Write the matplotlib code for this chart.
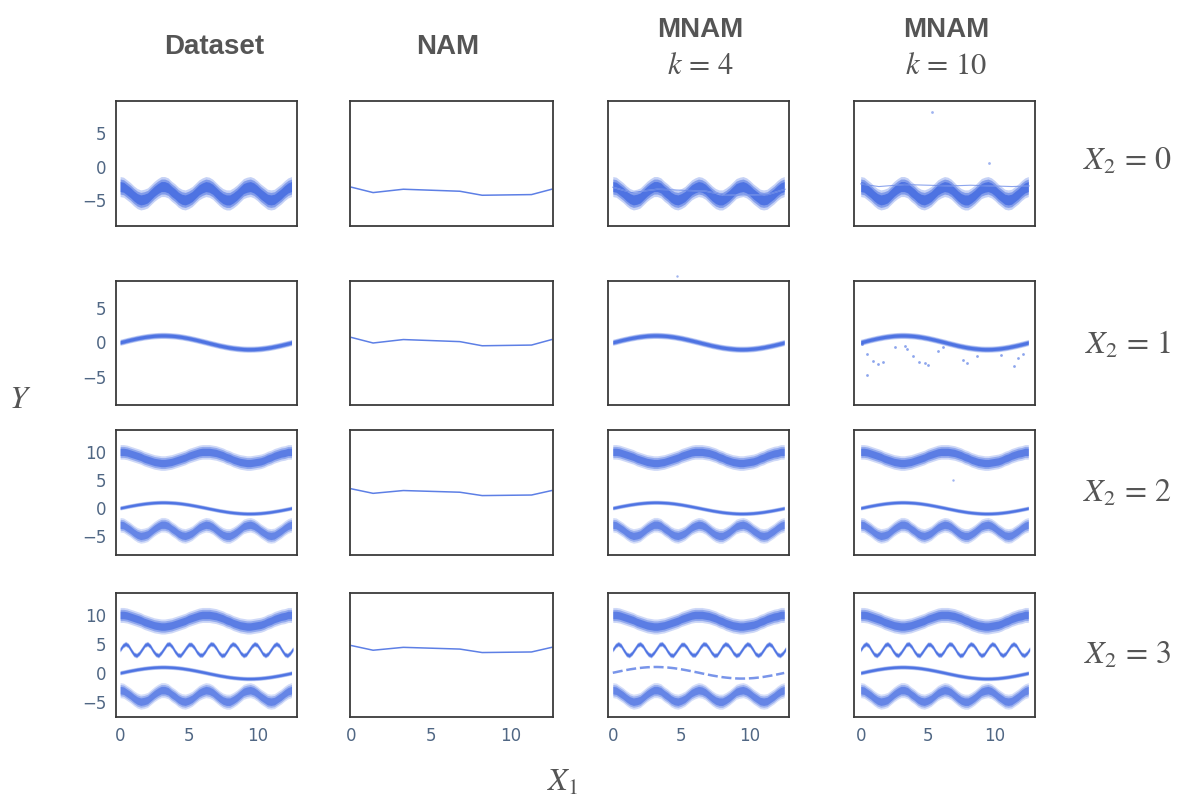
import numpy as np
import matplotlib.pyplot as plt

plt.rcParams['mathtext.fontset'] = 'stix'

# sample positions along X1
X1_GRID = [0.0, 0.25, 0.5, 0.75, 1.0, 1.25, 1.5, 1.75, 2.0, 2.25, 2.5, 2.75, 3.0,
           3.25, 3.5, 3.75, 4.0, 4.25, 4.5, 4.75, 5.0, 5.25, 5.5, 5.75, 6.0, 6.25,
           6.5, 6.75, 7.0, 7.25, 7.5, 7.75, 8.0, 8.25, 8.5, 8.75, 9.0, 9.25, 9.5,
           9.75, 10.0, 10.25, 10.5, 10.75, 11.0, 11.25, 11.5, 11.75, 12.0, 12.25, 12.5]
X1_FAST = [0.0, 0.2, 0.4, 0.6, 0.8, 1.0, 1.2, 1.4, 1.6, 1.8, 2.0, 2.2, 2.4, 2.6, 2.8,
           3.0, 3.2, 3.4, 3.6, 3.8, 4.0, 4.2, 4.4, 4.6, 4.8, 5.0, 5.2, 5.4, 5.6, 5.8,
           6.0, 6.2, 6.4, 6.6, 6.8, 7.0, 7.2, 7.4, 7.6, 7.8, 8.0, 8.2, 8.4, 8.6, 8.8,
           9.0, 9.2, 9.4, 9.6, 9.8, 10.0, 10.2, 10.4, 10.6, 10.8, 11.0, 11.2, 11.4,
           11.6, 11.8, 12.0, 12.2, 12.4, 12.6]

# band centres
CURVE_LOW = [-3.0, -3.1, -3.5, -3.9, -4.4, -4.8, -5.0, -4.9, -4.7, -4.2, -3.7, -3.3, -3.0,
             -3.0, -3.2, -3.7, -4.1, -4.6, -4.9, -5.0, -4.8, -4.5, -4.0, -3.5, -3.2, -3.0,
             -3.1, -3.4, -3.9, -4.4, -4.8, -5.0, -5.0, -4.7, -4.3, -3.8, -3.3, -3.1, -3.0,
             -3.2, -3.6, -4.1, -4.5, -4.9, -5.0, -4.9, -4.5, -4.1, -3.6, -3.2, -3.0]
CURVE_MID = [0.00, 0.12, 0.25, 0.37, 0.48, 0.59, 0.68, 0.77, 0.84, 0.90, 0.95, 0.98, 1.00,
             1.00, 0.98, 0.95, 0.91, 0.85, 0.78, 0.69, 0.60, 0.49, 0.38, 0.26, 0.14, 0.02,
             -0.11, -0.23, -0.35, -0.47, -0.57, -0.67, -0.76, -0.83, -0.89, -0.94, -0.98,
             -1.00, -1.00, -0.99, -0.96, -0.92, -0.86, -0.79, -0.71, -0.61, -0.51, -0.40,
             -0.28, -0.16, -0.03]
CURVE_TOP = [10.0, 10.0, 9.9, 9.7, 9.5, 9.3, 9.1, 8.8, 8.6, 8.4, 8.2, 8.1, 8.0, 8.0, 8.1,
             8.2, 8.4, 8.6, 8.8, 9.0, 9.3, 9.5, 9.7, 9.9, 10.0, 10.0, 10.0, 9.9, 9.8, 9.6,
             9.4, 9.1, 8.9, 8.6, 8.4, 8.2, 8.1, 8.0, 8.0, 8.1, 8.2, 8.3, 8.5, 8.8, 9.0, 9.3,
             9.5, 9.7, 9.8, 10.0, 10.0]
CURVE_ZIG = [4.0, 4.7, 5.0, 4.7, 3.9, 3.2, 3.0, 3.4, 4.1, 4.8, 5.0, 4.6, 3.8, 3.2, 3.0, 3.5,
             4.2, 4.9, 5.0, 4.5, 3.7, 3.1, 3.0, 3.6, 4.3, 4.9, 4.9, 4.4, 3.6, 3.1, 3.1, 3.7,
             4.5, 5.0, 4.9, 4.3, 3.5, 3.0, 3.1, 3.8, 4.6, 5.0, 4.8, 4.2, 3.4, 3.0, 3.2, 3.9,
             4.6, 5.0, 4.8, 4.1, 3.3, 3.0, 3.3, 4.0, 4.7, 5.0, 4.7, 3.9, 3.2, 3.0, 3.4, 4.1]

# NAM fits (piecewise linear) per X2 level
NAM_X = [0.0, 1.35, 3.25, 6.8, 8.2, 11.3, 12.57]
NAM_Y = {
    0: [-3.1, -3.9, -3.4, -3.7, -4.3, -4.2, -3.4],
    1: [0.7, -0.1, 0.4, 0.1, -0.5, -0.4, 0.4],
    2: [3.4, 2.6, 3.1, 2.8, 2.2, 2.3, 3.1],
    3: [4.7, 3.9, 4.4, 4.1, 3.5, 3.6, 4.4],
}
# extra structure in the MNAM fits
MNAM10_ROW0_LINE = [-2.6, -3.0, -2.7, -2.9, -2.8, -3.0, -2.9]
MNAM10_ROW0_OUT_X = [5.3, 9.6]
MNAM10_ROW0_OUT_Y = [8.1, 0.5]
MNAM4_ROW1_OUT_X = [4.7]
MNAM4_ROW1_OUT_Y = [9.6]
MNAM10_ROW1_OUT_X = [0.07, 0.47, 0.49, 0.92, 1.29, 1.66, 2.56, 3.3, 3.43, 3.88, 4.35,
                     4.8, 5.0, 5.77, 6.14, 7.63, 7.9, 8.66, 10.5, 11.4, 11.7, 12.1]
MNAM10_ROW1_OUT_Y = [-0.3, -1.7, -4.8, -2.7, -3.2, -2.9, -0.7, -0.5, -0.9, -2.0, -2.9,
                     -3.0, -3.3, -1.3, -0.7, -2.5, -3.0, -2.0, -1.9, -3.4, -2.3, -1.7]
MNAM10_ROW2_OUT_X = [6.9]
MNAM10_ROW2_OUT_Y = [4.9]

COL_TITLES = ['Dataset', 'NAM', 'MNAM', 'MNAM']
COL_SUBTITLES = ['', '', r'$k\,=\,4$', r'$k\,=\,10$']
ROW_LABELS = [r'$X_2\,=\,0$', r'$X_2\,=\,1$', r'$X_2\,=\,2$', r'$X_2\,=\,3$']

BLUE = '#4169e1'
TICK_COLOR = '#506784'
TEXT_GRAY = '#555555'

W, H = 1184, 801
COL_PX = [(116, 297), (350, 553), (608, 789), (854, 1035)]
ROW_PX = [(101, 226), (281, 405), (430, 555), (593, 717)]
XLIMS = [(-0.3, 12.9), (-0.1, 12.65), (-0.35, 12.85), (-0.5, 13.0)]
YLIMS = [(-8.9, 9.8), (-9.1, 8.9), (-8.4, 13.9), (-7.65, 13.8)]

fig = plt.figure(figsize=(W / 100, H / 100), dpi=100)


def band(ax, x, y, hw, dense=1.0):
    x = np.asarray(x)
    y = np.asarray(y)
    for frac, a in [(1.0, 0.3), (0.75, 0.5), (0.5, 0.8)]:
        ax.fill_between(x, y - hw * frac, y + hw * frac, color=BLUE, alpha=a * dense, lw=0)


def draw_dataset(ax, row, mid_dashed=False):
    if row == 0:
        band(ax, X1_GRID, CURVE_LOW, 1.5)
    elif row == 1:
        band(ax, X1_GRID, CURVE_MID, 0.45)
    else:
        band(ax, X1_GRID, CURVE_TOP, 1.3, 0.85)
        if row == 3:
            band(ax, X1_FAST, CURVE_ZIG, 0.45)
        if mid_dashed:
            ax.plot(X1_GRID, CURVE_MID, color=BLUE, lw=1.8, alpha=0.7, dashes=(4, 1.5))
        else:
            band(ax, X1_GRID, CURVE_MID, 0.38)
        band(ax, X1_GRID, CURVE_LOW, 1.3, 0.75)


axes = {}
for r in range(4):
    for c in range(4):
        x0, x1 = COL_PX[c]
        y0, y1 = ROW_PX[r]
        ax = fig.add_axes([x0 / W, 1 - y1 / H, (x1 - x0) / W, (y1 - y0) / H])
        axes[(r, c)] = ax
        ax.set_xlim(*XLIMS[c])
        ax.set_ylim(*YLIMS[r])
        for s in ax.spines.values():
            s.set_color('#3a3a3a')
            s.set_linewidth(1.3)
        ax.tick_params(length=0, colors=TICK_COLOR, labelsize=12, pad=7)
        if c == 0:
            ax.set_yticks([-5, 0, 5] if r < 2 else [-5, 0, 5, 10])
        else:
            ax.set_yticks([])
        if r == 3:
            ax.set_xticks([0, 5, 10])
        else:
            ax.set_xticks([])

        if c == 1:
            ax.plot(NAM_X, NAM_Y[r], color=BLUE, lw=1.1, alpha=0.85)
        else:
            draw_dataset(ax, r, mid_dashed=(c == 2 and r == 3))

# MNAM artefacts
axes[(0, 2)].plot(NAM_X, NAM_Y[0], color='white', lw=1.0, alpha=0.4)
axes[(0, 2)].plot(NAM_X, NAM_Y[0], color=BLUE, lw=0.8, alpha=0.6)
axes[(0, 3)].plot(NAM_X, MNAM10_ROW0_LINE, color='white', lw=1.0, alpha=0.4)
axes[(0, 3)].plot(NAM_X, MNAM10_ROW0_LINE, color=BLUE, lw=0.8, alpha=0.6)
axes[(0, 3)].scatter(MNAM10_ROW0_OUT_X, MNAM10_ROW0_OUT_Y, s=4, color=BLUE, alpha=0.5, lw=0)
axes[(1, 2)].scatter(MNAM4_ROW1_OUT_X, MNAM4_ROW1_OUT_Y, s=3, color=BLUE, alpha=0.5, lw=0,
                     clip_on=False)
axes[(1, 3)].scatter(MNAM10_ROW1_OUT_X, MNAM10_ROW1_OUT_Y, s=4, color=BLUE, alpha=0.6, lw=0)
axes[(2, 3)].scatter(MNAM10_ROW2_OUT_X, MNAM10_ROW2_OUT_Y, s=3, color=BLUE, alpha=0.5, lw=0)

# column headers
col_centers = [214, 448, 700, 946]
for c in range(4):
    xc = col_centers[c] / W
    if COL_SUBTITLES[c]:
        fig.text(xc, 1 - 30 / H, COL_TITLES[c], ha='center', va='center', fontsize=20,
                 fontweight='bold', color=TEXT_GRAY, family='Liberation Sans')
        fig.text(xc, 1 - 66 / H, COL_SUBTITLES[c], ha='center', va='center', fontsize=22,
                 color=TEXT_GRAY)
    else:
        fig.text(xc, 1 - 47 / H, COL_TITLES[c], ha='center', va='center', fontsize=20,
                 fontweight='bold', color=TEXT_GRAY, family='Liberation Sans')

# row labels
row_centers = [161, 345, 493, 655]
for r in range(4):
    fig.text(1128 / W, 1 - row_centers[r] / H, ROW_LABELS[r], ha='center', va='center',
             fontsize=23, color=TEXT_GRAY)

fig.text(20 / W, 1 - 400 / H, r'$Y$', ha='center', va='center', fontsize=23, color=TEXT_GRAY)
fig.text(563 / W, 1 - 782 / H, r'$X_1$', ha='center', va='center', fontsize=23,
         color=TEXT_GRAY)

fig.savefig('out.png', dpi=100)
